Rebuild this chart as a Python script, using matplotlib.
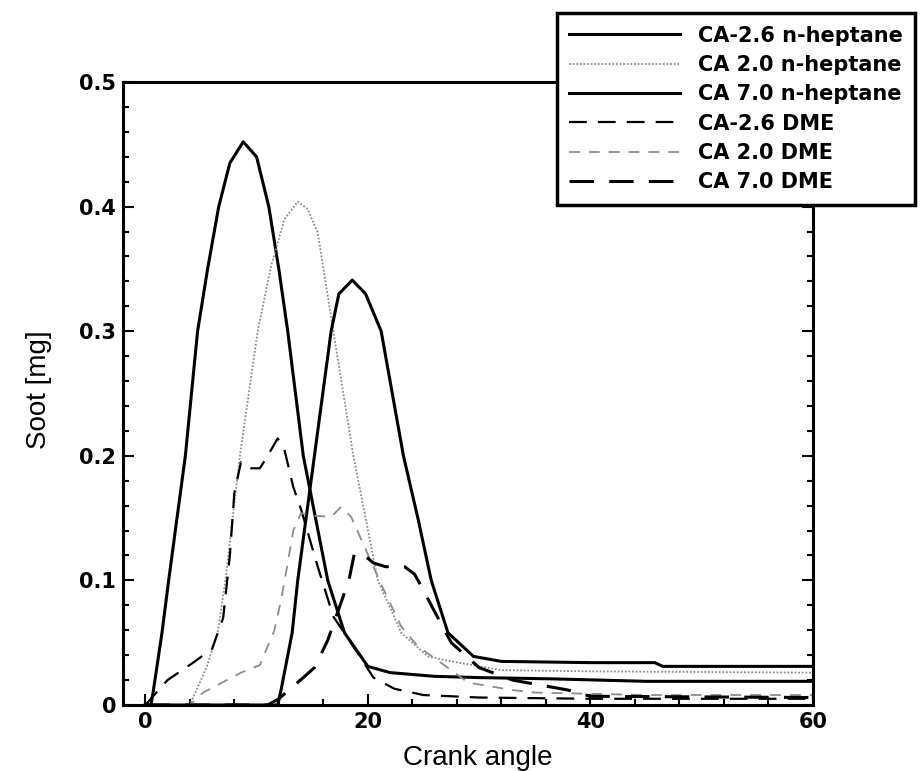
import matplotlib.pyplot as plt
from matplotlib.ticker import FuncFormatter, MultipleLocator

# crank angle / soot mass
x_hep_m26 = [0, 0.5, 0.7, 1.5, 2.1, 3.6, 4.7, 5.6, 6.6, 7.6, 8.8, 10.0, 11.1, 12.0, 12.8,
             14.2, 15.3, 16.4, 17.9, 20.0, 22.0, 26, 30, 36.5, 45, 60]
y_hep_m26 = [0, 0, 0.01, 0.058, 0.1, 0.2, 0.3, 0.35, 0.4, 0.435, 0.452, 0.44, 0.4, 0.35, 0.3,
             0.2, 0.15, 0.1, 0.058, 0.031, 0.026, 0.023, 0.022, 0.021, 0.019, 0.019]

x_hep_20 = [0, 4, 5.5, 6.5, 7.2, 8.5, 10.1, 11.3, 12.5, 13.7, 14.6, 15.5, 16.9, 18.7, 20.9,
            23, 25.4, 27.5, 32, 40, 60]
y_hep_20 = [0, 0, 0.03, 0.058, 0.1, 0.2, 0.3, 0.352, 0.39, 0.404, 0.398, 0.379, 0.3, 0.2, 0.1,
            0.058, 0.039, 0.035, 0.028, 0.027, 0.026]

x_hep_70 = [0, 11.9, 12.2, 13.2, 13.7, 15.2, 16.7, 17.4, 18.6, 19.8, 21.2, 23.2, 24.5, 25.7,
            27.2, 29.5, 32, 40, 45.8, 46.5, 60]
y_hep_70 = [0, 0, 0.012, 0.058, 0.1, 0.2, 0.3, 0.33, 0.341, 0.33, 0.3, 0.2, 0.15, 0.1,
            0.058, 0.039, 0.035, 0.034, 0.034, 0.031, 0.031]

x_dme_m26 = [0, 1, 2, 4.3, 6, 7, 7.6, 8.0, 8.6, 9.5, 10.3, 11, 11.9, 12.5, 13.3, 14, 15.5,
             16.9, 18.7, 20.5, 22.4, 25, 30, 40, 60]
y_dme_m26 = [0, 0.01, 0.02, 0.034, 0.045, 0.07, 0.12, 0.17, 0.195, 0.19, 0.19, 0.2, 0.214,
             0.205, 0.175, 0.157, 0.111, 0.071, 0.047, 0.022, 0.013, 0.008, 0.006, 0.005, 0.005]

x_dme_20 = [0, 4, 5.2, 8.6, 10.3, 11.6, 12.2, 12.8, 13.3, 14, 15, 16.7, 17.6, 18.5, 19.4,
            20.5, 21.3, 23, 24.5, 27.5, 29, 33, 35, 45, 60]
y_dme_20 = [0, 0, 0.01, 0.026, 0.032, 0.06, 0.084, 0.114, 0.14, 0.154, 0.152, 0.151, 0.159,
            0.151, 0.133, 0.111, 0.095, 0.063, 0.047, 0.028, 0.018, 0.012, 0.01, 0.008, 0.008]

x_dme_70 = [0, 11, 12, 14.2, 15.2, 16.4, 17.9, 18.3, 18.8, 19.7, 20.5, 21.6, 23.3, 24.2, 25,
            26, 27.5, 30, 33, 38, 40, 60]
y_dme_70 = [0, 0, 0.005, 0.022, 0.03, 0.052, 0.09, 0.1, 0.122, 0.12, 0.114, 0.111, 0.111,
            0.105, 0.092, 0.075, 0.05, 0.03, 0.02, 0.012, 0.007, 0.006]

labels = ["CA-2.6 n-heptane", "CA 2.0 n-heptane", "CA 7.0 n-heptane",
          "CA-2.6 DME", "CA 2.0 DME", "CA 7.0 DME"]

fig = plt.figure(figsize=(9.21, 7.71), dpi=100)
ax = fig.add_axes([0.1336, 0.0856, 0.749, 0.808])

ax.plot(x_hep_m26, y_hep_m26, color="black", lw=2.2, label=labels[0])
ax.plot(x_hep_20, y_hep_20, color="0.55", lw=1.3, ls=(0, (1, 1)), label=labels[1])
ax.plot(x_hep_70, y_hep_70, color="black", lw=2.2, label=labels[2])
ax.plot(x_dme_m26, y_dme_m26, color="black", lw=1.6, ls=(0, (8, 5)), label=labels[3])
ax.plot(x_dme_20, y_dme_20, color="0.55", lw=1.3, ls=(0, (6, 5)), label=labels[4])
ax.plot(x_dme_70, y_dme_70, color="black", lw=2.2, ls=(0, (8, 5)), label=labels[5])

ax.set_xlim(-2, 60)
ax.set_ylim(0, 0.5)
ax.xaxis.set_major_locator(MultipleLocator(20))
ax.xaxis.set_minor_locator(MultipleLocator(4))
ax.yaxis.set_major_locator(MultipleLocator(0.1))
ax.yaxis.set_minor_locator(MultipleLocator(0.02))
ax.yaxis.set_major_formatter(FuncFormatter(lambda v, _: "0" if abs(v) < 1e-9 else f"{v:.1f}"))
ax.tick_params(which="both", direction="in", top=False, right=True, width=1.5)
ax.tick_params(which="major", length=8, labelsize=15, pad=5)
ax.tick_params(which="minor", length=4)
for lab in ax.get_xticklabels() + ax.get_yticklabels():
    lab.set_fontweight("bold")
for sp in ax.spines.values():
    sp.set_linewidth(2.2)

ax.set_xlabel("Crank angle", fontsize=20, family="Liberation Sans", va="center")
ax.set_ylabel("Soot [mg]", fontsize=20, family="Liberation Sans", va="center")
ax.xaxis.set_label_coords(0.514, -0.085)
ax.yaxis.set_label_coords(-0.122, 0.506)

leg = fig.legend(loc="upper right", bbox_to_anchor=(0.9935, 0.983), borderaxespad=0,
                 frameon=True, fancybox=False, edgecolor="black", framealpha=1,
                 prop={"weight": "bold", "size": 15},
                 handlelength=5.3, labelspacing=0.45, handletextpad=0.87,
                 borderpad=0.6)
leg.get_frame().set_linewidth(2.5)

fig.savefig("out.png", dpi=100)
